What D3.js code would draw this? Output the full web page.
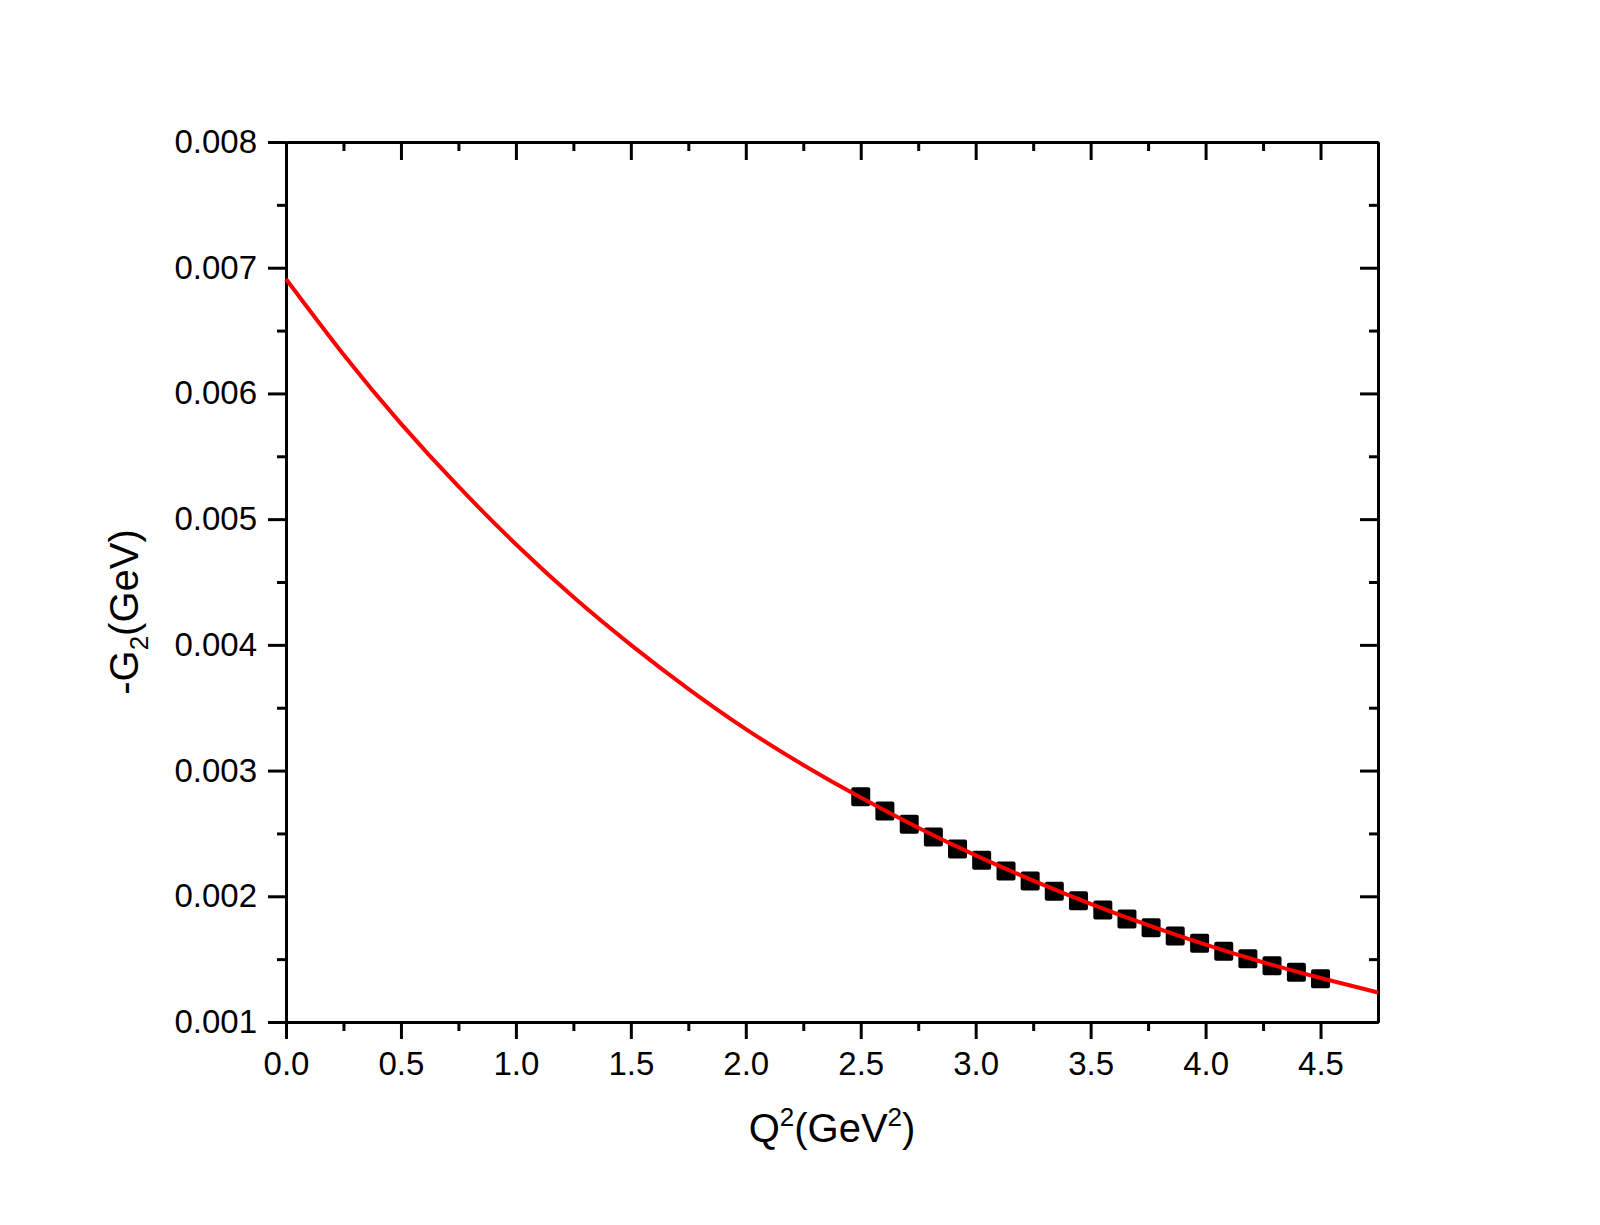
<!DOCTYPE html>
<html>
<head>
<meta charset="utf-8">
<script src="https://cdn.jsdelivr.net/npm/d3@7"></script>
<style>
  body { margin: 0; background: #fff; }
  text { font-family: "Liberation Sans", Arial, sans-serif; fill: #000; }
</style>
</head>
<body>
<svg id="canvas" width="1600" height="1225"></svg>
<script>
// fit curve
let curveQ2 = [0, 0.25, 0.5, 0.75, 1.0, 1.25, 1.5, 1.75, 2.0, 2.25, 2.5, 2.75, 3.0, 3.25, 3.5, 3.75, 4.0, 4.25, 4.5, 4.75]
let curveG2 = [0.00691, 0.00631, 0.00576, 0.00526, 0.00480, 0.00438, 0.00400, 0.00365, 0.00333, 0.003045,
               0.002785, 0.002545, 0.002325, 0.002125, 0.00194, 0.00177, 0.001615, 0.001475, 0.00135, 0.001235]

// square markers
let pointQ2 = [2.5, 2.605, 2.711, 2.816, 2.921, 3.026, 3.132, 3.237, 3.342, 3.447,
               3.553, 3.658, 3.763, 3.868, 3.974, 4.079, 4.184, 4.289, 4.395, 4.5]
let pointG2 = [0.002792, 0.002679, 0.002573, 0.002472, 0.002376, 0.002286, 0.002201, 0.002122, 0.002040, 0.001965,
               0.001891, 0.001819, 0.001750, 0.001684, 0.001626, 0.001562, 0.001504, 0.001448, 0.001395, 0.001344]

let xTicks = [0, 0.5, 1.0, 1.5, 2.0, 2.5, 3.0, 3.5, 4.0, 4.5]
let xMinor = [0.25, 0.75, 1.25, 1.75, 2.25, 2.75, 3.25, 3.75, 4.25]
let yTicks = [0.001, 0.002, 0.003, 0.004, 0.005, 0.006, 0.007, 0.008]
let yMinor = [0.0015, 0.0025, 0.0035, 0.0045, 0.0055, 0.0065, 0.0075]

let plotLeft = 286, plotRight = 1378, plotTop = 142, plotBottom = 1022

let canvas = d3.select('#canvas')

let xScale = d3.scaleLinear().domain([0, 4.75]).range([plotLeft, plotRight])
let yScale = d3.scaleLinear().domain([0.001, 0.008]).range([plotBottom, plotTop])

let styleAxis = (g) => {
    g.selectAll('path').attr('stroke', '#000').attr('stroke-width', 3)
    g.selectAll('line').attr('stroke', '#000').attr('stroke-width', 3)
    g.selectAll('text').style('font-size', '33px').attr('fill', '#000')
}

// bottom
canvas.append('g').attr('transform', `translate(0,${plotBottom})`)
      .call(d3.axisBottom(xScale).tickValues(xTicks).tickFormat(d3.format('.1f')).tickSize(17).tickSizeOuter(0).tickPadding(13))
      .call(styleAxis)
canvas.append('g').attr('transform', `translate(0,${plotBottom})`)
      .call(d3.axisBottom(xScale).tickValues(xMinor).tickFormat('').tickSize(9).tickSizeOuter(0))
      .call(styleAxis)

// top
canvas.append('g').attr('transform', `translate(0,${plotTop})`)
      .call(d3.axisTop(xScale).tickValues(xTicks).tickFormat('').tickSize(-18).tickSizeOuter(0))
      .call(styleAxis)
canvas.append('g').attr('transform', `translate(0,${plotTop})`)
      .call(d3.axisTop(xScale).tickValues(xMinor).tickFormat('').tickSize(-9).tickSizeOuter(0))
      .call(styleAxis)

// left
canvas.append('g').attr('transform', `translate(${plotLeft},0)`)
      .call(d3.axisLeft(yScale).tickValues(yTicks).tickFormat(d3.format('.3f')).tickSize(18).tickSizeOuter(0).tickPadding(11))
      .call(styleAxis)
canvas.append('g').attr('transform', `translate(${plotLeft},0)`)
      .call(d3.axisLeft(yScale).tickValues(yMinor).tickFormat('').tickSize(9).tickSizeOuter(0))
      .call(styleAxis)

// right
canvas.append('g').attr('transform', `translate(${plotRight},0)`)
      .call(d3.axisRight(yScale).tickValues(yTicks).tickFormat('').tickSize(-18).tickSizeOuter(0))
      .call(styleAxis)
canvas.append('g').attr('transform', `translate(${plotRight},0)`)
      .call(d3.axisRight(yScale).tickValues(yMinor).tickFormat('').tickSize(-9).tickSizeOuter(0))
      .call(styleAxis)

// squares
let points = pointQ2.map((q, i) => [q, pointG2[i]])
canvas.selectAll('rect.pt')
      .data(points)
      .enter()
      .append('rect')
      .attr('class', 'pt')
      .attr('x', (d) => xScale(d[0]) - 9.5)
      .attr('y', (d) => yScale(d[1]) - 9.5)
      .attr('width', 19)
      .attr('height', 19)
      .attr('rx', 2)
      .attr('fill', '#000')

// red curve
let curve = curveQ2.map((q, i) => [q, curveG2[i]])
let line = d3.line()
             .x((d) => xScale(d[0]))
             .y((d) => yScale(d[1]))
             .curve(d3.curveNatural)
canvas.append('path')
      .datum(curve)
      .attr('d', line)
      .attr('fill', 'none')
      .attr('stroke', '#ff0000')
      .attr('stroke-width', 4)

// axis titles
let xTitle = canvas.append('text')
      .attr('x', (plotLeft + plotRight) / 2)
      .attr('y', 1142)
      .attr('text-anchor', 'middle')
      .style('font-size', '40px')
xTitle.append('tspan').text('Q')
xTitle.append('tspan').attr('dy', -16).style('font-size', '26px').text('2')
xTitle.append('tspan').attr('dy', 16).text('(GeV')
xTitle.append('tspan').attr('dy', -16).style('font-size', '26px').text('2')
xTitle.append('tspan').attr('dy', 16).text(')')

let yTitle = canvas.append('text')
      .attr('transform', 'translate(138,612) rotate(-90)')
      .attr('text-anchor', 'middle')
      .style('font-size', '40px')
yTitle.append('tspan').text('-G')
yTitle.append('tspan').attr('dy', 10).style('font-size', '26px').text('2')
yTitle.append('tspan').attr('dy', -10).text('(GeV)')
</script>
</body>
</html>
